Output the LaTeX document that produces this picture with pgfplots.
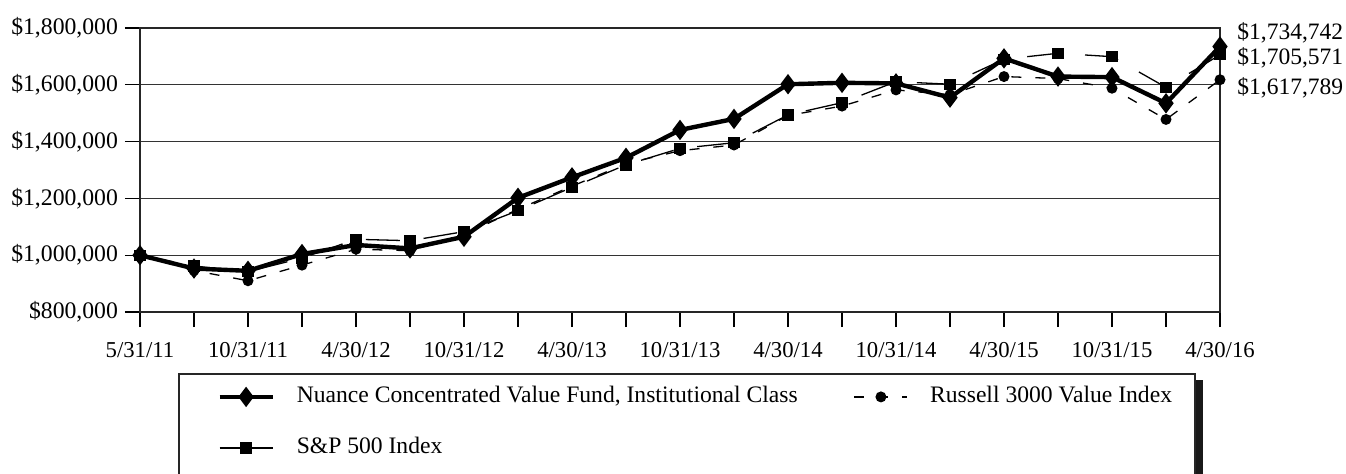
\documentclass[border=0pt]{standalone}
\usepackage{fontspec}
\setmainfont{Liberation Serif}
\usepackage{pgfplots}
\pgfplotsset{compat=1.18}
\usepackage{pgfplotstable}

\pgfplotstableread{
idx fund sp rv
0 1000000 1000000 1000000
1 953000 962000 946000
2 945000 942000 910000
3 1004000 990000 965000
4 1036000 1056000 1021000
5 1024000 1051000 1016000
6 1065000 1083000 1072000
7 1202000 1157000 1162000
8 1274000 1239000 1243000
9 1343000 1318000 1322000
10 1441000 1376000 1368000
11 1480000 1396000 1388000
12 1602000 1494000 1492000
13 1607000 1537000 1525000
14 1605000 1611000 1582000
15 1555000 1602000 1565000
16 1693000 1690000 1629000
17 1629000 1711000 1622000
18 1627000 1699000 1588000
19 1535000 1591000 1478000
20 1734742 1705571 1617789
}\datatable

\begin{document}
\begin{tikzpicture}
\begin{axis}[
  scale only axis, width=540bp, height=142bp,
  at={(0,0)}, anchor=south west,
  xmin=0, xmax=20, ymin=800000, ymax=1800000,
  scaled y ticks=false,
  clip=false,
  axis line style={line width=1.2bp, black!85},
  xtick={0,...,20},
  xticklabels={5/31/11,,10/31/11,,4/30/12,,10/31/12,,4/30/13,,10/31/13,,4/30/14,,10/31/14,,4/30/15,,10/31/15,,4/30/16},
  ytick={800000,1000000,1200000,1400000,1600000,1800000},
  yticklabels={{\$800,000},{\$1,000,000},{\$1,200,000},{\$1,400,000},{\$1,600,000},{\$1,800,000}},
  xtick pos=bottom, ytick pos=left,
  tick align=outside, major tick length=7.5bp,
  tick style={line width=0.6bp, black},
  ymajorgrids, grid style={line width=0.65bp, black!80},
  yticklabel style={font=\fontsize{11.9}{13}\selectfont},
  xticklabel style={font=\fontsize{11.4}{13}\selectfont, yshift=-4bp},
  legend columns=2,
  legend cell align=left,
  legend image code/.code={\draw[mark repeat=2,mark phase=2,#1] plot coordinates {(0bp,0bp)(13.25bp,0bp)(26.5bp,0bp)};},
  legend style={at={(0.0713,-0.2606)}, anchor=north west, draw=none, fill=none,
    inner sep=0pt, row sep=15bp,
    nodes={inner sep=0pt, text height=8bp, text depth=2.5bp, font=\fontsize{11.85}{13}\selectfont},
    /tikz/every odd column/.append style={column sep=11bp},
    /tikz/every even column/.append style={column sep=28bp}},
]
\addlegendimage{black, line width=2.2bp, mark=diamond*, mark size=3.3bp, mark options={solid}}
\addlegendentry{Nuance Concentrated Value Fund, Institutional Class}
\addlegendimage{black, line width=0.65bp, dash pattern=on 5bp off 7bp, mark=*, mark size=2.4bp, mark options={solid}}
\addlegendentry{Russell 3000 Value Index}
\addlegendimage{black, line width=0.65bp, mark=square*, mark size=2.5bp, mark options={solid}}
\addlegendentry{S\&P 500 Index}

\addplot[forget plot, black, line width=0.65bp, dash pattern=on 17bp off 12bp, mark=square*, mark size=2.5bp, mark options={solid}] table[x=idx, y=sp] {\datatable};
\addplot[forget plot, black, line width=0.65bp, dash pattern=on 5bp off 7bp, mark=*, mark size=2.4bp, mark options={solid}] table[x=idx, y=rv] {\datatable};
\addplot[forget plot, black, line width=2.2bp, mark=diamond*, mark size=3.3bp, mark options={solid}] table[x=idx, y=fund] {\datatable};

\node[anchor=west, inner sep=0pt, xshift=8.5bp, font=\fontsize{11.8}{13}\selectfont] at (axis cs:20,1782000) {\$1,734,742};
\node[anchor=west, inner sep=0pt, xshift=8.5bp, font=\fontsize{11.8}{13}\selectfont] at (axis cs:20,1694000) {\$1,705,571};
\node[anchor=west, inner sep=0pt, xshift=8.5bp, font=\fontsize{11.8}{13}\selectfont] at (axis cs:20,1589000) {\$1,617,789};
\end{axis}
\draw[line width=0.7bp, black!85] (19.5bp,-100bp) -- (19.5bp,-31bp) -- (527.5bp,-31bp) -- (527.5bp,-100bp);
\fill[black!90] (528bp,-34bp) rectangle (531.5bp,-100bp);
\pgfresetboundingbox
\path (-70bp,-81bp) rectangle (603bp,156bp);
\end{tikzpicture}
\end{document}
